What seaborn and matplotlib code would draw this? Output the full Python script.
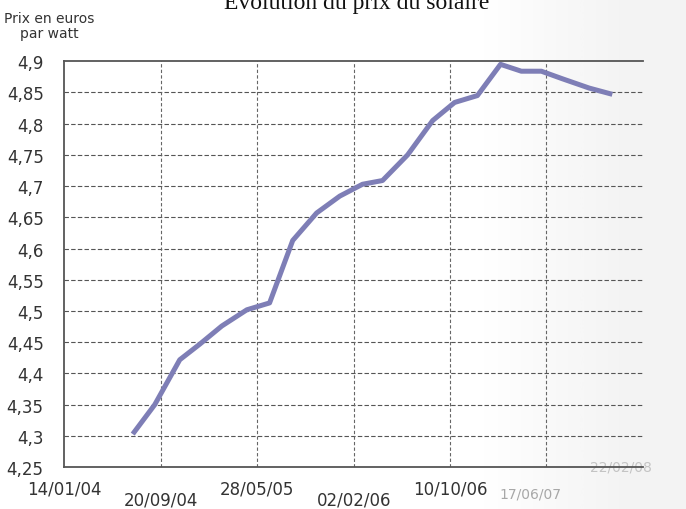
import numpy as np
import pandas as pd
import matplotlib
matplotlib.use("Agg")
import matplotlib.pyplot as plt
import matplotlib.transforms as mtransforms
import seaborn as sns

# ----- Données ------------------------------------------------------------
dates = ["2004-07-09", "2004-09-04", "2004-11-08", "2004-12-30", "2005-02-25",
         "2005-05-01", "2005-06-29", "2005-08-28", "2005-10-29", "2005-12-28",
         "2006-02-25", "2006-04-18", "2006-06-22", "2006-08-26", "2006-10-22",
         "2006-12-20", "2007-02-18", "2007-04-13", "2007-06-04", "2007-07-28",
         "2007-10-06", "2007-12-05"]
prix = [4.303, 4.350, 4.422, 4.447, 4.476,
        4.502, 4.513, 4.613, 4.657, 4.684,
        4.703, 4.709, 4.750, 4.805, 4.834,
        4.845, 4.895, 4.884, 4.884, 4.872,
        4.857, 4.847]

ticks_haut = ["2004-01-14", "2005-05-28", "2006-10-10", "2008-02-22"]
labels_haut = ["14/01/04", "28/05/05", "10/10/06", "22/02/08"]
ticks_bas = ["2004-09-20", "2006-02-02", "2007-06-17"]
labels_bas = ["20/09/04", "02/02/06", "17/06/07"]

y_ticks = [4.25, 4.3, 4.35, 4.4, 4.45, 4.5, 4.55, 4.6, 4.65, 4.7, 4.75, 4.8, 4.85, 4.9]
y_labels = ["4,25", "4,3", "4,35", "4,4", "4,45", "4,5", "4,55", "4,6", "4,65",
            "4,7", "4,75", "4,8", "4,85", "4,9"]

titre = "Évolution du prix du solaire"
y_titre = "Prix en euros\npar watt"

df = pd.DataFrame({"date": pd.to_datetime(dates), "prix": prix})

# ----- Figure -------------------------------------------------------------
sns.set_style("white")
plt.rcParams["font.family"] = ["DejaVu Sans"]

fig = plt.figure(figsize=(6.86, 5.10), dpi=100)

# ombre de la reliure à droite (scan)
fond = fig.add_axes([0, 0, 1, 1], zorder=-1)
grad = np.clip((np.linspace(0, 1, 300) - 0.70) / 0.22, 0, 1) * 0.10
fond.imshow(grad[np.newaxis, :], aspect="auto", cmap="Greys", vmin=0, vmax=1,
            extent=[0, 1, 0, 1])
fond.axis("off")

ax = fig.add_axes([0.094, 0.082, 0.843, 0.796])
ax.patch.set_alpha(0)

sns.lineplot(data=df, x="date", y="prix", ax=ax, color="#7e7eb6",
             linewidth=3.6, solid_capstyle="butt")

ax.set_ylim(4.25, 4.9)
ax.set_xlim(pd.Timestamp("2004-01-14"), pd.Timestamp("2008-02-22"))
ax.set_xlabel("")
ax.set_ylabel("")

# axe y
ax.set_yticks(y_ticks)
ax.set_yticklabels(y_labels)
ax.tick_params(axis="y", length=8, width=1.2, color="#444", pad=7,
               labelsize=12, labelcolor="#333")

# axe x : étiquettes en quinconce
ax.set_xticks(pd.to_datetime(ticks_haut))
ax.set_xticklabels(labels_haut)
ax.set_xticks(pd.to_datetime(ticks_bas), minor=True)
ax.set_xticklabels(labels_bas, minor=True)
ax.tick_params(axis="x", which="major", length=7, width=1.2, color="#444",
               pad=2, labelsize=12, labelcolor="#333")
ax.tick_params(axis="x", which="minor", length=15, width=1.2, color="#444",
               pad=2, labelsize=12, labelcolor="#333")

# les deux dernières étiquettes sont pâles et tassées sur le scan
lab_fin = ax.get_xticklabels()[-1]
lab_fin.set_color("#c4c4c4")
lab_fin.set_fontsize(10)
lab_fin.set_transform(lab_fin.get_transform() +
                      mtransforms.ScaledTranslation(-0.22, 0.20, fig.dpi_scale_trans))
lab_bas = ax.get_xticklabels(minor=True)[-1]
lab_bas.set_color("#a8a8a8")
lab_bas.set_fontsize(10)
lab_bas.set_transform(lab_bas.get_transform() +
                      mtransforms.ScaledTranslation(-0.16, 0.04, fig.dpi_scale_trans))

# grille pointillée
for y in y_ticks[1:-1]:
    ax.axhline(y, color="#555", linewidth=0.8, linestyle=(0, (4, 2)), zorder=0)
for t in ticks_haut[1:-1] + ticks_bas:
    ax.axvline(pd.Timestamp(t), color="#666", linewidth=0.8,
               linestyle=(0, (3, 2)), zorder=0)

for s in ["left", "bottom", "top"]:
    ax.spines[s].set_color("#555")
    ax.spines[s].set_linewidth(1.3)
ax.spines["right"].set_visible(False)

# titres
fig.text(0.52, 0.982, titre, ha="center", va="baseline", fontsize=17,
         family="Liberation Serif", color="#111")
fig.text(0.072, 0.92, y_titre, ha="center", va="bottom", fontsize=10,
         color="#333", linespacing=1.1)

fig.savefig("out.png", dpi=100)
plt.close(fig)
